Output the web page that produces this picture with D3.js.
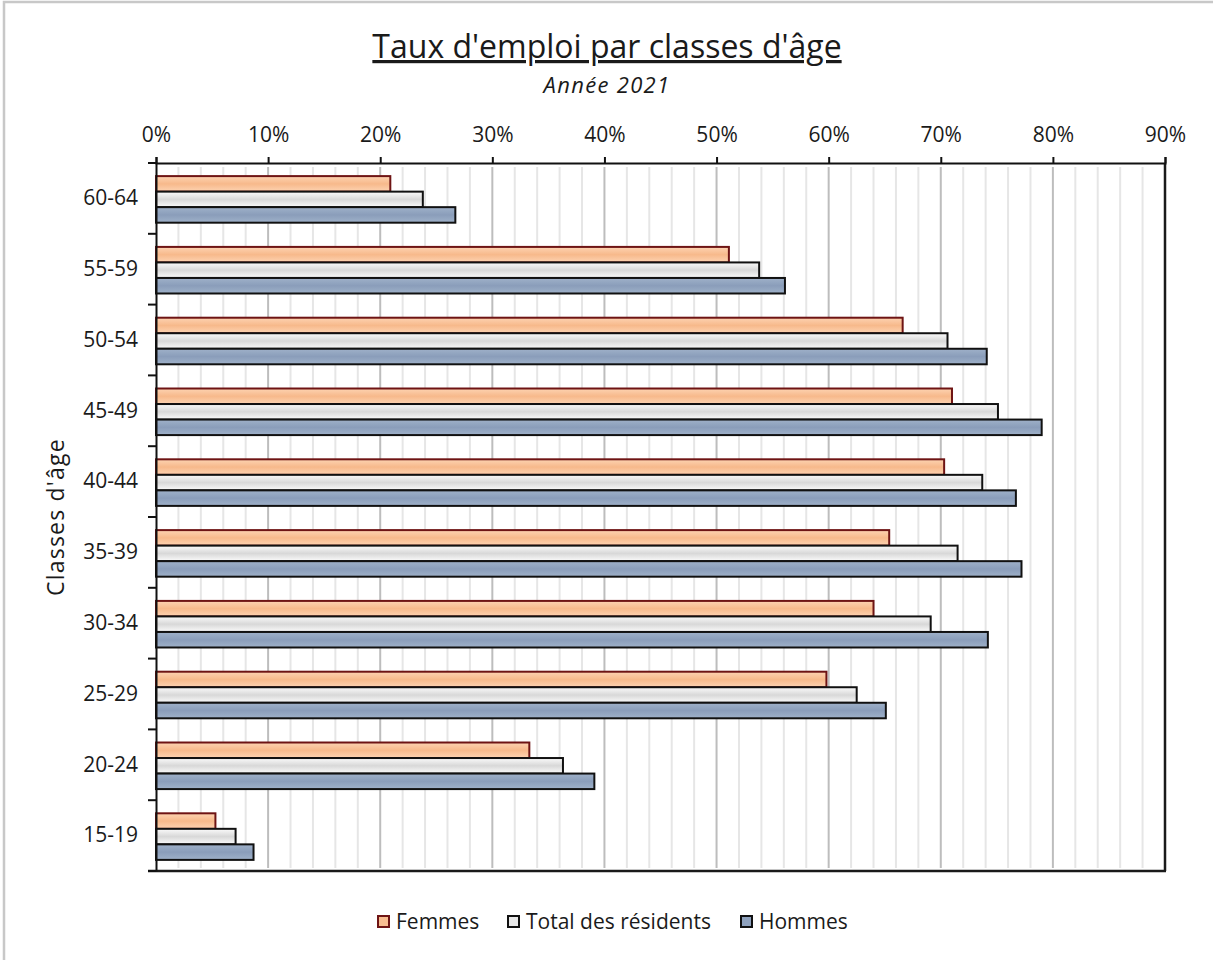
<!DOCTYPE html>
<html>
<head>
<meta charset="utf-8">
<title>Taux d'emploi par classes d'âge</title>
<style>
  body { margin: 0; background: #fff; }
  svg text { font-family: "Open Sans", Lato, sans-serif; fill: #1a1a1a; }
</style>
</head>
<body>
<div id="chart"></div>
<script src="https://cdn.jsdelivr.net/npm/d3@7"></script>
<script>
// donnees (taux d'emploi, annee 2021)
var ageClasses = ["60-64", "55-59", "50-54", "45-49", "40-44", "35-39", "30-34", "25-29", "20-24", "15-19"];
var seriesNames = ["Femmes", "Total des résidents", "Hommes"];
var femmes = [0.209, 0.511, 0.666, 0.710, 0.703, 0.654, 0.640, 0.598, 0.333, 0.053];
var total  = [0.238, 0.538, 0.706, 0.751, 0.737, 0.715, 0.691, 0.625, 0.363, 0.071];
var hommes = [0.267, 0.561, 0.741, 0.790, 0.767, 0.772, 0.742, 0.651, 0.391, 0.087];
var xTicks = [0, 0.1, 0.2, 0.3, 0.4, 0.5, 0.6, 0.7, 0.8, 0.9];

var W = 1213, H = 960;
var pLeft = 156, pRight = 1165, pTop = 163, pBottom = 871;

var svg = d3.select("#chart").append("svg")
  .attr("width", W).attr("height", H);

// gradients des barres
var defs = svg.append("defs");
function grad(id, edge, mid) {
  var g = defs.append("linearGradient").attr("id", id)
    .attr("x1", 0).attr("y1", 0).attr("x2", 0).attr("y2", 1);
  g.append("stop").attr("offset", "0%").attr("stop-color", edge);
  g.append("stop").attr("offset", "50%").attr("stop-color", mid);
  g.append("stop").attr("offset", "100%").attr("stop-color", edge);
}
grad("gF", "#fdd3b2", "#f7b98b");
grad("gT", "#fbfbfb", "#d8d8d8");
grad("gH", "#9fb1c9", "#8a9dba");

var fills = { "Femmes": "url(#gF)", "Total des résidents": "url(#gT)", "Hommes": "url(#gH)" };
var strokes = { "Femmes": "#6e1414", "Total des résidents": "#111", "Hommes": "#111" };
var legendFills = { "Femmes": "#f8bd90", "Total des résidents": "#e8e8e8", "Hommes": "#8ea1bd" };

// cadre exterieur
svg.append("rect")
  .attr("x", 4).attr("y", 2).attr("width", W + 20).attr("height", H + 20)
  .attr("fill", "none").attr("stroke", "#c8c8c8").attr("stroke-width", 2.5);

var x = d3.scaleLinear().domain([0, 0.9]).range([pLeft, pRight]);
var y = d3.scaleBand().domain(ageClasses).range([pTop, pBottom]);
var ySub = d3.scaleBand().domain(seriesNames).range([0, y.bandwidth()]).paddingOuter(0.78);

// grille verticale
var minor = d3.range(1, 45).map(function(i) { return i * 0.02; }).filter(function(v) { return Math.round(v * 100) % 10 !== 0; });
svg.append("g").selectAll("line").data(minor).enter().append("line")
  .attr("x1", function(d) { return x(d); }).attr("x2", function(d) { return x(d); })
  .attr("y1", pTop + 4).attr("y2", pBottom - 3)
  .attr("stroke", "#e6e6e6").attr("stroke-width", 2);
svg.append("g").selectAll("line").data(xTicks.slice(1, 9)).enter().append("line")
  .attr("x1", function(d) { return x(d); }).attr("x2", function(d) { return x(d); })
  .attr("y1", pTop + 4).attr("y2", pBottom - 3)
  .attr("stroke", "#bdbdbd").attr("stroke-width", 2);

// barres
var rows = ageClasses.map(function(c, i) {
  return { cat: c, vals: [
    { s: "Femmes", v: femmes[i] },
    { s: "Total des résidents", v: total[i] },
    { s: "Hommes", v: hommes[i] }
  ] };
});
var groups = svg.append("g").selectAll("g").data(rows).enter().append("g")
  .attr("transform", function(d) { return "translate(0," + (y(d.cat) + 1) + ")"; });
groups.selectAll("rect").data(function(d) { return d.vals; }).enter().append("rect")
  .attr("x", x(0))
  .attr("y", function(d) { return ySub(d.s); })
  .attr("width", function(d) { return x(d.v) - x(0); })
  .attr("height", ySub.bandwidth())
  .attr("fill", function(d) { return fills[d.s]; })
  .attr("stroke", function(d) { return strokes[d.s]; })
  .attr("stroke-width", 2);

// bordures droite et bas
svg.append("line").attr("x1", pRight).attr("x2", pRight).attr("y1", pTop).attr("y2", pBottom)
  .attr("stroke", "#1a1a1a").attr("stroke-width", 2.5);
svg.append("line").attr("x1", pLeft - 8).attr("x2", pRight + 1).attr("y1", pBottom).attr("y2", pBottom)
  .attr("stroke", "#1a1a1a").attr("stroke-width", 2.5);

// axe du haut
var xAxis = d3.axisTop(x).tickValues(xTicks).tickFormat(d3.format(".0%"))
  .tickSize(6).tickPadding(15);
var gx = svg.append("g").attr("transform", "translate(0," + pTop + ")").call(xAxis);
gx.select(".domain").attr("stroke", "#111").attr("stroke-width", 2);
gx.selectAll(".tick line").attr("stroke", "#111").attr("stroke-width", 2);
gx.selectAll("text").style("font-size", "21px").attr("fill", "#1a1a1a");

// axe vertical
var yAxis = d3.axisLeft(y).tickSize(0).tickPadding(18);
var gy = svg.append("g").attr("transform", "translate(" + pLeft + ",0)").call(yAxis);
gy.select(".domain").attr("stroke", "#111").attr("stroke-width", 2);
gy.selectAll("text").style("font-size", "21px").attr("fill", "#1a1a1a");
var bounds = ageClasses.map(function(c) { return y(c); }).concat([pBottom]);
svg.append("g").selectAll("line").data(bounds).enter().append("line")
  .attr("x1", pLeft - 8).attr("x2", pLeft).attr("y1", function(d) { return d; }).attr("y2", function(d) { return d; })
  .attr("stroke", "#111").attr("stroke-width", 2);

// titres
svg.append("text").attr("x", 607).attr("y", 58).attr("text-anchor", "middle")
  .style("font-size", "32px").style("text-decoration", "underline")
  .text("Taux d'emploi  par classes d'âge");
svg.append("text").attr("x", 607).attr("y", 93).attr("text-anchor", "middle")
  .style("font-size", "22px").style("font-style", "italic").style("letter-spacing", "1.3px")
  .text("Année 2021");
svg.append("text").attr("transform", "translate(64,517) rotate(-90)").attr("text-anchor", "middle")
  .style("font-size", "23px").style("letter-spacing", "1.2px").text("Classes d'âge");

// legende
var legendX = [378, 508, 741];
var leg = svg.append("g").selectAll("g").data(seriesNames).enter().append("g")
  .attr("transform", function(d, i) { return "translate(" + legendX[i] + ",916)"; });
leg.append("rect").attr("width", 11).attr("height", 11)
  .attr("fill", function(d) { return legendFills[d]; })
  .attr("stroke", function(d) { return strokes[d]; }).attr("stroke-width", 2);
leg.append("text").attr("x", 18).attr("y", 13).style("font-size", "21px")
  .text(function(d) { return d; });
</script>
</body>
</html>
